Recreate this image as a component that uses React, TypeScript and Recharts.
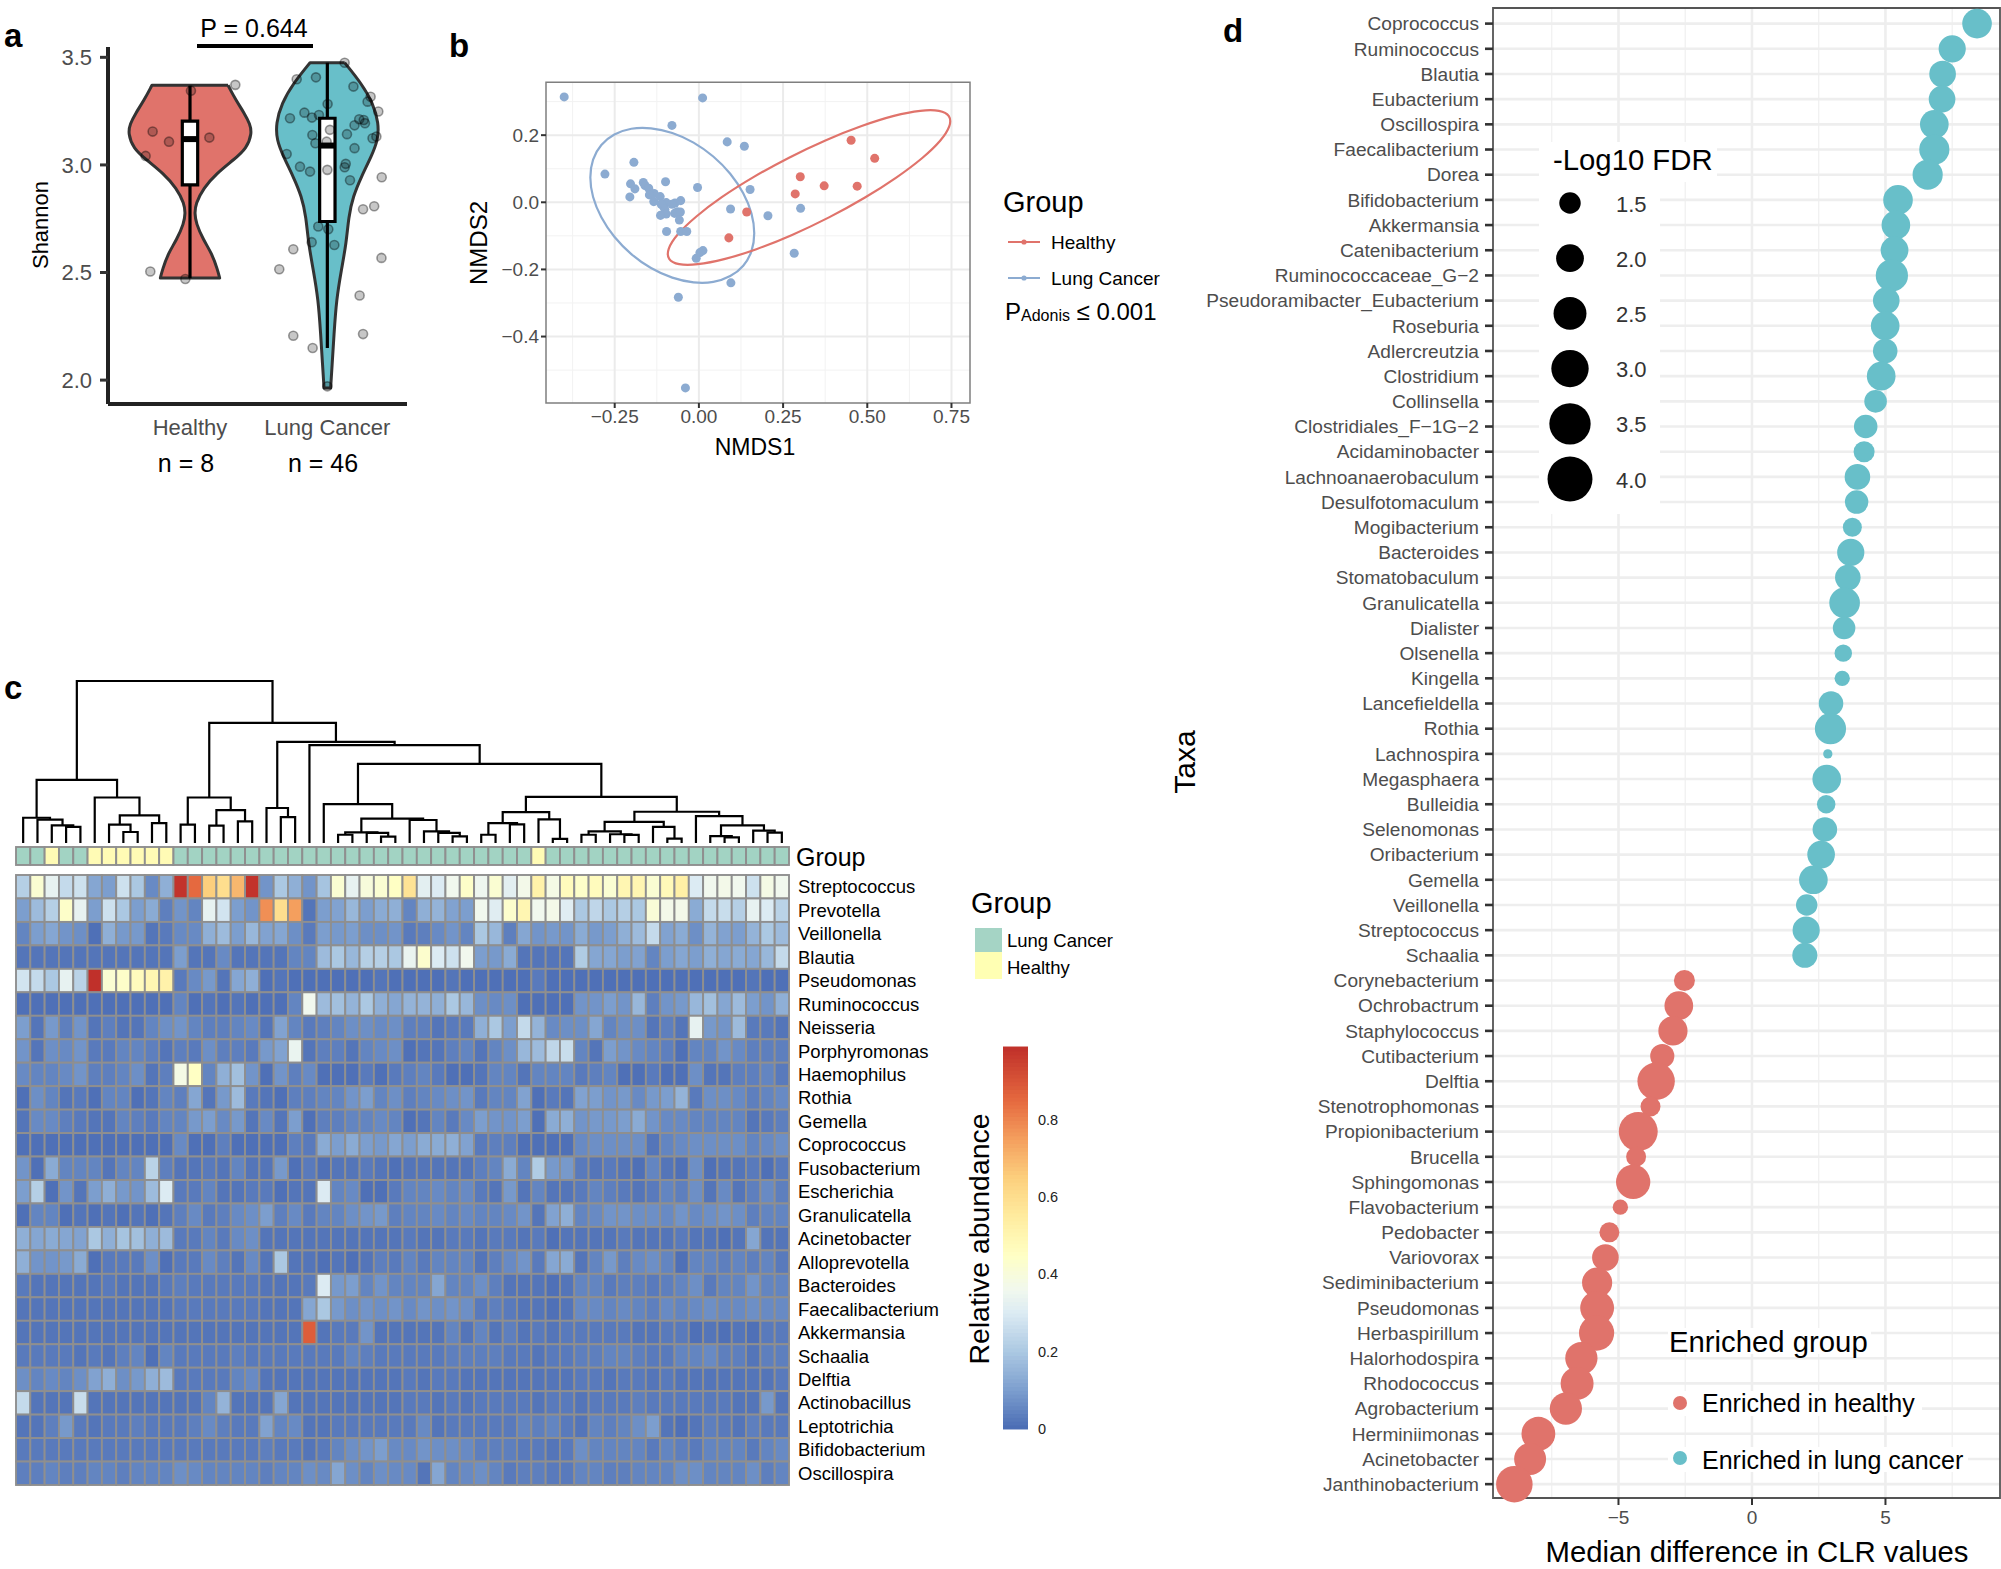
import { ScatterChart, Scatter, XAxis, YAxis, ZAxis, CartesianGrid, ReferenceArea } from 'recharts';

const FONT = '"Liberation Sans", Arial, sans-serif';
const RED = '#E0736B';
const TEAL = '#68BFC9';
const minus = (s: string) => s.replace('-', '\u2212');
const noDot = () => null;

// ---- panel a: Shannon violins
const healthyShannon = [3.37, 3.3, 3.24, 3.19, 3.147, 3.077, 3.023, 2.961, 2.892, 2.82, 2.775, 2.729, 2.652, 2.59, 2.513, 2.474];
const healthyHalfWidth = [0.277, 0.335, 0.396, 0.437, 0.451, 0.413, 0.316, 0.194, 0.097, 0.041, 0.034, 0.044, 0.097, 0.158, 0.201, 0.216];
const cancerShannon = [3.475, 3.379, 3.286, 3.193, 3.116, 3.039, 2.946, 2.853, 2.76, 2.636, 2.512, 2.373, 2.218, 2.063, 1.963];
const cancerHalfWidth = [0.126, 0.248, 0.333, 0.374, 0.369, 0.32, 0.248, 0.187, 0.155, 0.138, 0.102, 0.066, 0.049, 0.034, 0.024];
const healthyBox = { min: 2.474, q1: 2.907, med: 3.12, q3: 3.204, max: 3.368 };
const cancerBox = { min: 2.149, q1: 2.737, med: 3.09, q3: 3.217, max: 3.475 };
const healthyJitter = [[1.007, 3.345], [1.33, 3.372], [0.728, 3.155], [0.847, 3.108], [1.141, 3.127], [0.677, 3.042], [0.711, 2.505], [0.966, 2.47]];
const cancerJitter = [
  [1.777, 3.398], [1.917, 3.407], [2.002, 3.283], [1.728, 3.217], [1.833, 3.243], [1.888, 3.22], [1.939, 3.232], [2.019, 3.163],
  [1.891, 3.139], [1.995, 3.108], [1.913, 3.101], [1.704, 3.051], [1.801, 2.992], [1.874, 2.969], [2.0, 2.977], [1.934, 2.714],
  [2.007, 2.701], [1.886, 2.641], [2.051, 2.628], [1.752, 2.608], [1.65, 2.515], [1.752, 2.206], [1.893, 2.149], [2.0, 1.971],
  [2.126, 3.475], [2.19, 3.364], [2.315, 3.317], [2.293, 3.294], [2.371, 3.248], [2.232, 3.212], [2.265, 3.209], [2.274, 3.194],
  [2.198, 3.184], [2.143, 3.143], [2.329, 3.124], [2.357, 3.132], [2.198, 3.078], [2.134, 3.005], [2.126, 2.989], [2.165, 2.929],
  [2.396, 2.943], [2.26, 2.794], [2.341, 2.808], [2.394, 2.568], [2.235, 2.393], [2.26, 2.214],
];
const violinNames = ['Healthy', 'Lung Cancer'];

// ---- panel b: NMDS
const nmdsBlue = [
  [-0.4, 0.314], [0.011, 0.311], [-0.08, 0.229], [0.084, 0.18], [0.135, 0.167], [-0.193, 0.119], [-0.279, 0.084], [-0.099, 0.061],
  [-0.203, 0.055], [-0.165, 0.059], [-0.16, 0.05], [-0.149, 0.042], [-0.19, 0.04], [-0.004, 0.044], [0.152, 0.038], [-0.133, 0.026],
  [-0.147, 0.022], [-0.115, 0.017], [-0.205, 0.016], [-0.134, 0.002], [-0.054, 0.005], [-0.071, -0.002], [-0.08, -0.006], [-0.097, -0.001],
  [-0.106, -0.011], [-0.112, -0.006], [-0.101, -0.021], [-0.097, -0.035], [-0.114, -0.039], [-0.072, -0.033], [-0.064, -0.028], [-0.055, -0.029],
  [-0.058, -0.053], [0.094, -0.02], [0.302, -0.018], [0.205, -0.04], [-0.096, -0.087], [-0.054, -0.087], [-0.036, -0.087], [0.012, -0.144],
  [0.003, -0.15], [-0.008, -0.167], [0.283, -0.152], [0.095, -0.24], [-0.061, -0.283], [-0.04, -0.553],
];
const nmdsRed = [[0.452, 0.185], [0.522, 0.131], [0.301, 0.076], [0.372, 0.049], [0.47, 0.048], [0.286, 0.025], [0.142, -0.029], [0.089, -0.106]];
const ellipseBlue = [
  [0.167, -0.093], [0.159, -0.034], [0.134, 0.027], [0.095, 0.086], [0.044, 0.138], [-0.015, 0.18], [-0.079, 0.209], [-0.143, 0.223],
  [-0.202, 0.222], [-0.253, 0.204], [-0.292, 0.173], [-0.317, 0.129], [-0.325, 0.075], [-0.317, 0.016], [-0.292, -0.045], [-0.253, -0.104],
  [-0.202, -0.156], [-0.143, -0.198], [-0.079, -0.227], [-0.015, -0.241], [0.044, -0.24], [0.095, -0.222], [0.134, -0.191], [0.159, -0.147],
];
const ellipseRed = [
  [0.747, 0.259], [0.717, 0.275], [0.661, 0.275], [0.582, 0.26], [0.485, 0.229], [0.378, 0.187], [0.267, 0.134], [0.16, 0.075],
  [0.065, 0.015], [-0.012, -0.044], [-0.067, -0.097], [-0.094, -0.14], [-0.093, -0.171], [-0.063, -0.187], [-0.007, -0.187], [0.072, -0.172],
  [0.169, -0.142], [0.276, -0.099], [0.387, -0.046], [0.494, 0.013], [0.589, 0.074], [0.666, 0.132], [0.721, 0.185], [0.748, 0.228],
];
const nmdsXTicks = [-0.25, 0, 0.25, 0.5, 0.75];
const nmdsYTicks = [-0.4, -0.2, 0, 0.2];

// ---- panel c: heatmap, one list per taxon, 54 samples each
const heatTaxa = ['Streptococcus', 'Prevotella', 'Veillonella', 'Blautia', 'Pseudomonas', 'Ruminococcus', 'Neisseria', 'Porphyromonas', 'Haemophilus', 'Rothia', 'Gemella', 'Coprococcus', 'Fusobacterium', 'Escherichia', 'Granulicatella', 'Acinetobacter', 'Alloprevotella', 'Bacteroides', 'Faecalibacterium', 'Akkermansia', 'Schaalia', 'Delftia', 'Actinobacillus', 'Leptotrichia', 'Bifidobacterium', 'Oscillospira'];
const healthySamples = [3, 6, 7, 8, 9, 10, 11, 37];
const hStreptococcus = [.22,.42,.33,.25,.27,.12,.1,.27,.2,.06,.14,.98,.85,.65,.6,.7,.98,.08,.2,.14,.08,.19,.42,.33,.4,.42,.45,.58,.32,.3,.36,.44,.35,.42,.32,.37,.52,.38,.47,.44,.47,.42,.5,.5,.42,.48,.53,.3,.36,.37,.36,.27,.38,.36];
const hPrevotella = [.1,.17,.22,.44,.33,.1,.27,.2,.1,.13,.04,.08,.05,.33,.28,.1,.08,.78,.6,.75,.02,.1,.11,.16,.1,.13,.14,.05,.14,.15,.11,.1,.36,.31,.43,.5,.36,.37,.31,.2,.24,.2,.22,.2,.41,.37,.37,.13,.25,.26,.22,.33,.3,.23];
const hVeillonella = [.05,.1,.12,.08,.07,.01,.14,.09,.09,.02,.03,.06,.06,.14,.17,.1,.16,.11,.12,.07,.03,.1,.09,.1,.07,.07,.08,.03,.04,.06,.08,.05,.2,.16,.04,.12,.08,.09,.08,.13,.09,.1,.14,.17,.25,.11,.13,.07,.15,.11,.1,.15,.2,.17];
const hBlautia = [.02,.02,.02,.02,.02,.02,.02,.02,.02,.02,.02,.1,.02,.02,.06,.02,.02,.02,.02,.05,.05,.17,.2,.16,.22,.22,.2,.34,.43,.3,.27,.36,.1,.09,.13,.02,.02,.02,.02,.21,.12,.12,.1,.11,.05,.1,.12,.1,.14,.12,.13,.12,.16,.25];
const hPseudomonas = [.28,.25,.2,.33,.23,.99,.42,.44,.47,.5,.52,.03,.06,.09,.02,.12,.14,.01,.02,.01,.01,.01,.01,.01,.01,.02,.01,.01,.01,.01,.02,.01,.01,.01,.01,.01,.03,.01,.01,.01,.01,.01,.01,.01,.01,.01,.01,.01,.01,.01,.01,.02,.01,.01];
const hRuminococcus = [.01,.01,.01,.01,.01,.01,.01,.01,.01,.01,.01,.05,.01,.02,.01,.02,.01,.01,.01,.05,.36,.17,.18,.15,.2,.14,.12,.15,.15,.14,.2,.16,.07,.06,.07,.01,.01,.01,.01,.08,.08,.1,.08,.16,.04,.08,.09,.16,.18,.12,.17,.1,.08,.14];
const hNeisseria = [.1,.02,.09,.04,.08,.02,.04,.02,.02,.05,.07,.08,.05,.04,.04,.05,.06,.02,.11,.05,.03,.04,.05,.07,.07,.06,.07,.04,.04,.02,.03,.03,.14,.2,.1,.25,.15,.06,.07,.07,.12,.05,.07,.07,.02,.04,.02,.33,.09,.08,.17,.03,.03,.02];
const hPorphyromonas = [.08,.02,.07,.06,.08,.03,.03,.05,.05,.04,.02,.04,.03,.07,.04,.04,.03,.09,.11,.34,.02,.04,.04,.02,.05,.06,.07,.01,.02,.02,.04,.05,.02,.05,.07,.16,.17,.24,.26,.05,.02,.1,.08,.06,.05,.04,.01,.05,.05,.08,.06,.04,.04,.04];
const hHaemophilus = [.06,.05,.05,.06,.08,.04,.04,.05,.07,.02,.04,.38,.45,.05,.14,.18,.08,.01,.08,.04,.06,.01,.01,.01,.03,.01,.03,.04,.05,.03,.01,.01,.02,.05,.05,.02,.05,.05,.05,.03,.04,.05,.01,.01,.03,.01,.01,.07,.02,.02,.04,.04,.05,.03];
const hRothia = [.01,.07,.05,.02,.03,.01,.05,.05,.01,.02,.05,.04,.12,.02,.09,.17,.03,.02,.01,.04,.04,.05,.05,.08,.1,.05,.07,.04,.05,.06,.07,.08,.03,.05,.05,.11,.01,.03,.02,.11,.1,.08,.09,.06,.09,.1,.15,.03,.07,.07,.06,.04,.05,.06];
const hGemella = [.02,.06,.06,.04,.03,.02,.02,.05,.04,.03,.05,.05,.09,.1,.06,.09,.02,.06,.02,.1,.01,.04,.04,.05,.05,.06,.05,.01,.02,.05,.03,.06,.1,.08,.08,.1,.01,.13,.14,.08,.09,.09,.1,.13,.08,.06,.06,.05,.05,.05,.05,.02,.03,.04];
const hCoprococcus = [.01,.01,.01,.01,.01,.01,.01,.01,.01,.01,.01,.06,.01,.01,.04,.01,.01,.01,.01,.04,.03,.13,.1,.13,.1,.09,.12,.1,.13,.13,.14,.11,.03,.04,.04,.01,.01,.01,.01,.06,.07,.07,.07,.07,.02,.05,.06,.07,.07,.07,.07,.05,.06,.07];
const hFusobacterium = [.08,.01,.13,.05,.05,.05,.02,.05,.05,.23,.04,.02,.02,.03,.02,.05,.02,.02,.09,.01,.03,.01,.02,.02,.03,.02,.01,.02,.02,.02,.02,.02,.04,.05,.13,.05,.21,.09,.09,.03,.02,.03,.02,.01,.05,.02,.01,.07,.01,.02,.02,.03,.01,.03];
const hEscherichia = [.1,.22,.01,.08,.02,.1,.14,.09,.08,.17,.3,.03,.03,.05,.02,.02,.03,.03,.01,.02,.02,.3,.05,.06,.01,.01,.03,.05,.05,.06,.05,.06,.03,.02,.09,.02,.05,.02,.02,.03,.05,.04,.03,.02,.03,.05,.04,.07,.02,.06,.02,.04,.06,.04];
const hGranulicatella = [.01,.05,.05,.01,.02,.01,.02,.01,.02,.01,.02,.04,.06,.03,.04,.06,.07,.1,.04,.06,.03,.05,.05,.07,.08,.09,.04,.05,.05,.06,.05,.06,.05,.05,.06,.08,.02,.11,.14,.05,.06,.08,.08,.07,.07,.06,.08,.06,.07,.08,.07,.04,.05,.05];
const hAcinetobacter = [.14,.12,.13,.12,.11,.2,.14,.19,.18,.14,.17,.03,.03,.05,.03,.06,.07,.02,.02,.02,.02,.02,.02,.02,.02,.02,.02,.03,.02,.02,.03,.03,.02,.03,.03,.02,.03,.01,.02,.02,.02,.02,.03,.02,.02,.02,.03,.02,.02,.01,.02,.12,.02,.02];
const hAlloprevotella = [.14,.08,.08,.09,.13,.01,.03,.03,.03,.07,.01,.03,.03,.06,.04,.02,.06,.02,.2,.02,.02,.01,.02,.01,.02,.04,.03,.05,.03,.05,.05,.05,.02,.04,.06,.08,.03,.12,.13,.02,.05,.09,.04,.06,.07,.05,.01,.05,.05,.04,.05,.04,.05,.03];
const hBacteroides = [.03,.02,.02,.02,.02,.02,.03,.02,.02,.02,.03,.04,.03,.03,.03,.03,.03,.02,.02,.02,.03,.3,.09,.1,.05,.08,.05,.05,.05,.12,.05,.05,.07,.04,.02,.02,.02,.01,.02,.05,.05,.03,.04,.04,.03,.04,.05,.07,.03,.05,.05,.08,.05,.05];
const hFaecalibacterium = [.02,.02,.02,.02,.02,.02,.02,.02,.02,.02,.02,.03,.03,.03,.03,.03,.03,.02,.02,.02,.12,.2,.09,.07,.08,.07,.08,.06,.08,.07,.08,.07,.03,.04,.03,.02,.02,.01,.02,.06,.06,.05,.06,.05,.04,.06,.05,.06,.07,.06,.06,.07,.06,.06];
const hAkkermansia = [.02,.02,.02,.02,.02,.02,.02,.02,.02,.02,.02,.02,.02,.02,.02,.02,.02,.02,.02,.02,.88,.02,.03,.03,.08,.02,.02,.02,.02,.02,.05,.02,.05,.02,.04,.02,.03,.02,.03,.03,.03,.03,.03,.02,.02,.03,.03,.01,.02,.01,.02,.01,.03,.03];
const hSchaalia = [.03,.03,.03,.03,.02,.03,.02,.04,.05,.01,.05,.03,.03,.03,.03,.04,.03,.03,.03,.03,.03,.03,.03,.05,.04,.03,.03,.03,.03,.03,.04,.04,.04,.04,.03,.03,.02,.03,.03,.04,.04,.05,.05,.04,.03,.03,.05,.05,.06,.04,.04,.02,.04,.04];
const hDelftia = [.07,.05,.06,.05,.07,.11,.14,.07,.09,.14,.17,.03,.03,.03,.03,.05,.06,.02,.02,.02,.02,.02,.02,.02,.02,.02,.02,.03,.02,.03,.03,.02,.02,.02,.02,.02,.02,.02,.02,.03,.03,.02,.03,.03,.02,.03,.02,.02,.02,.02,.02,.02,.02,.03];
const hActinobacillus = [.25,.02,.02,.02,.26,.02,.02,.02,.02,.02,.02,.02,.02,.05,.15,.02,.02,.02,.12,.02,.02,.02,.02,.02,.02,.02,.02,.03,.03,.02,.03,.02,.03,.03,.03,.03,.02,.03,.03,.02,.03,.03,.03,.04,.03,.03,.03,.03,.03,.03,.02,.02,.09,.02];
const hLeptotrichia = [.02,.02,.04,.09,.03,.02,.03,.03,.04,.03,.03,.03,.04,.06,.04,.03,.03,.11,.05,.06,.02,.02,.03,.03,.03,.03,.03,.03,.06,.02,.03,.03,.03,.03,.03,.05,.04,.05,.03,.02,.05,.04,.05,.07,.1,.02,.01,.02,.04,.03,.02,.04,.03,.03];
const hBifidobacterium = [.03,.03,.03,.03,.03,.03,.03,.03,.03,.03,.03,.03,.03,.03,.03,.03,.03,.04,.03,.03,.02,.03,.05,.07,.08,.1,.06,.06,.08,.07,.07,.06,.04,.04,.04,.03,.03,.02,.03,.07,.05,.05,.05,.05,.03,.05,.04,.03,.05,.05,.05,.03,.05,.06];
const hOscillospira = [.04,.04,.05,.04,.04,.05,.05,.04,.05,.05,.05,.07,.06,.05,.05,.05,.05,.04,.05,.05,.07,.06,.12,.07,.05,.07,.06,.06,.02,.12,.05,.06,.07,.05,.03,.04,.04,.03,.03,.05,.05,.04,.04,.05,.05,.05,.07,.07,.05,.05,.05,.07,.04,.05];
const heatValues = [hStreptococcus, hPrevotella, hVeillonella, hBlautia, hPseudomonas, hRuminococcus, hNeisseria, hPorphyromonas, hHaemophilus, hRothia, hGemella, hCoprococcus, hFusobacterium, hEscherichia, hGranulicatella, hAcinetobacter, hAlloprevotella, hBacteroides, hFaecalibacterium, hAkkermansia, hSchaalia, hDelftia, hActinobacillus, hLeptotrichia, hBifidobacterium, hOscillospira];
const heatStops: [number, string][] = [[0, '#4A6BB4'], [0.1, '#7C9ECE'], [0.2, '#ABC8E2'], [0.3, '#DCEBF3'], [0.36, '#F1F8EE'], [0.45, '#FFFFC4'], [0.55, '#FFEC9F'], [0.65, '#FCCF7D'], [0.75, '#F49F5E'], [0.85, '#E5693F'], [0.987, '#C0302A']];
const colourTicks = [0, 0.2, 0.4, 0.6, 0.8];
// dendrogram merges: left leaf x, left height, right leaf x, right height, top height
const merges = [
  [4,0,5,0,9.9],[3,0,4.5,9.9,10.9],[2,0,3.75,10.9,14.4],[1,0,2.875,14.4,15.6],[8,0,9,0,6.8],[7,0,8.5,6.8,11.3],[10,0,11,0,12.3],[7.75,11.3,10.5,12.3,17],
  [6,0,9.125,17,28.1],[1.94,15.6,7.56,28.1,39],[12,0,13,0,11.3],[14,0,15,0,10.7],[16,0,17,0,13.3],[14.5,10.7,16.5,13.3,20.3],[12.5,11.3,15.5,20.3,28.1],
  [19,0,20,0,16],[18,0,19.5,16,21.6],[23,0,24,0,5.1],[26,0,27,0,3.9],[25,0,26.5,3.9,6.2],[23.5,5.1,25.75,6.2,6.6],[31,0,32,0,4.1],[30,0,31.5,4.1,6.2],
  [29,0,30.75,6.2,7.2],[28,0,29.875,7.2,14.2],[24.625,6.6,28.94,14.2,15],[22,0,26.78,15,24],[33,0,34,0,5.1],[35,0,36,0,11.5],[33.5,5.1,35.5,11.5,12.3],
  [38,0,39,0,2.5],[37,0,38.5,2.5,14.6],[34.5,12.3,37.75,14.6,19.1],[40,0,41,0,5.1],[43,0,44,0,5],[42,0,43.5,5,5.4],[40.5,5.1,42.75,5.4,7.2],[46,0,47,0,2.7],
  [45,0,46.5,2.7,9.9],[41.62,7.2,45.75,9.9,13.1],[50,0,51,0,3.5],[49,0,50.5,3.5,4.3],[53,0,54,0,6.4],[52,0,53.5,6.4,7.6],[49.75,4.3,52.75,7.6,10.9],
  [48,0,51.25,10.9,16.6],[43.7,13.1,49.62,16.6,19.3],[36.12,19.1,46.66,19.3,28.5],[24.39,24,41.39,28.5,48.9],[21,0,32.89,48.9,60.4],[18.75,21.6,26.95,60.4,62.4],
  [14,28.1,22.85,62.4,74.1],[4.75,39,18.42,74.1,100],
];

// ---- panel d: bubbles
const taxaUp = ['Coprococcus', 'Ruminococcus', 'Blautia', 'Eubacterium', 'Oscillospira', 'Faecalibacterium', 'Dorea', 'Bifidobacterium', 'Akkermansia', 'Catenibacterium', 'Ruminococcaceae_G\u22122', 'Pseudoramibacter_Eubacterium', 'Roseburia', 'Adlercreutzia', 'Clostridium', 'Collinsella', 'Clostridiales_F\u22121G\u22122', 'Acidaminobacter', 'Lachnoanaerobaculum', 'Desulfotomaculum', 'Mogibacterium', 'Bacteroides', 'Stomatobaculum', 'Granulicatella', 'Dialister', 'Olsenella', 'Kingella', 'Lancefieldella', 'Rothia', 'Lachnospira', 'Megasphaera', 'Bulleidia', 'Selenomonas', 'Oribacterium', 'Gemella', 'Veillonella', 'Streptococcus', 'Schaalia'];
const diffUp = [8.43, 7.5, 7.14, 7.12, 6.83, 6.83, 6.58, 5.47, 5.39, 5.34, 5.24, 5.03, 4.99, 4.99, 4.84, 4.63, 4.26, 4.2, 3.95, 3.92, 3.76, 3.7, 3.59, 3.47, 3.45, 3.42, 3.38, 2.96, 2.94, 2.84, 2.8, 2.78, 2.73, 2.59, 2.3, 2.05, 2.03, 1.98];
const fdrUp = [2.17, 1.95, 1.9, 1.9, 2.08, 2.22, 2.22, 2.17, 2.08, 2.0, 2.43, 1.9, 2.08, 1.73, 2.08, 1.58, 1.65, 1.47, 1.81, 1.65, 1.34, 1.95, 1.81, 2.27, 1.58, 1.25, 1.14, 1.73, 2.32, 0.9, 2.08, 1.31, 1.73, 1.99, 2.08, 1.5, 1.95, 1.77];
const taxaDown = ['Corynebacterium', 'Ochrobactrum', 'Staphylococcus', 'Cutibacterium', 'Delftia', 'Stenotrophomonas', 'Propionibacterium', 'Brucella', 'Sphingomonas', 'Flavobacterium', 'Pedobacter', 'Variovorax', 'Sediminibacterium', 'Pseudomonas', 'Herbaspirillum', 'Halorhodospira', 'Rhodococcus', 'Agrobacterium', 'Herminiimonas', 'Acinetobacter', 'Janthinobacterium'];
const diffDown = [-2.53, -2.74, -2.96, -3.36, -3.59, -3.8, -4.26, -4.34, -4.45, -4.93, -5.34, -5.49, -5.8, -5.8, -5.82, -6.39, -6.55, -6.97, -8.0, -8.31, -8.9];
const fdrDown = [1.47, 2.08, 2.13, 1.7, 3.0, 1.4, 3.2, 1.4, 2.65, 1.14, 1.4, 1.9, 2.22, 2.6, 2.75, 2.43, 2.5, 2.43, 2.6, 2.4, 2.9];
const sizeLegend = [1.5, 2.0, 2.5, 3.0, 3.5, 4.0];

const allTaxa = [...taxaUp, ...taxaDown];
const rowTicks = allTaxa.map((_, i) => i);
const upData = taxaUp.map((_, i) => ({ x: diffUp[i], y: i, z: fdrUp[i] }));
const downData = taxaDown.map((_, i) => ({ x: diffDown[i], y: i + taxaUp.length, z: fdrDown[i] }));

const pts = (list: number[][]) => list.map(([x, y]) => ({ x, y }));

// corners of the flat ends are repeated so the closed curve goes through them
const violinOutline = (centre: number, ys: number[], hw: number[]) => {
  const right = ys.map((y, i) => ({ x: centre + hw[i], y }));
  const left = ys.map((y, i) => ({ x: centre - hw[i], y })).reverse();
  const hold = (side: { x: number; y: number }[]) => [side[0], side[0], ...side, side[side.length - 1], side[side.length - 1]];
  return [...hold(right), ...hold(left)];
};

const mixHex = (a: string, b: string, t: number) => {
  const c = (s: string, i: number) => parseInt(s.slice(1 + i * 2, 3 + i * 2), 16);
  const ch = [0, 1, 2].map((i) => Math.round(c(a, i) + (c(b, i) - c(a, i)) * t));
  return `rgb(${ch[0]},${ch[1]},${ch[2]})`;
};
const heatColour = (v: number) => {
  for (let i = 1; i < heatStops.length; i++) {
    if (v <= heatStops[i][0]) {
      const [a, ca] = heatStops[i - 1];
      const [b, cb] = heatStops[i];
      return mixHex(ca, cb, (v - a) / (b - a));
    }
  }
  return heatStops[heatStops.length - 1][1];
};

const heatCells = heatValues.flatMap((row, r) => row.map((value, c) => ({ x: c + 1, y: r + 0.5, value })));
const groupCells = hStreptococcus.map((_, c) => ({ x: c + 1, y: -0.81, healthy: healthySamples.includes(c + 1) }));
// legend bands of the colour scale, 0.01 apart
const colourBands = Array.from({ length: 99 }, (_, i) => ({ x: 0.5, y: (i + 0.5) * 0.00997 }));

const CELL_W = 14.31;
const CELL_H = 23.46;
const heatCell = (p: any) => (
  <rect x={p.cx - CELL_W / 2} y={p.cy - CELL_H / 2} width={CELL_W} height={CELL_H} fill={heatColour(p.payload.value)} stroke="#8F8F8F" strokeWidth={1.9} />
);
const groupCell = (p: any) => (
  <rect x={p.cx - CELL_W / 2} y={p.cy - 9} width={CELL_W} height={18} fill={p.payload.healthy ? '#FFFBB5' : '#A2D3C3'} stroke="#8F8F8F" strokeWidth={1.9} />
);
const bandCell = (p: any) => (
  <rect x={p.cx - 12.5} y={p.cy - 2.4} width={25} height={4.8} fill={heatColour(p.payload.y)} />
);

const boxSeries = (centre: number, b: typeof healthyBox) => {
  const w = 0.056;
  return (
    <>
      <Scatter data={pts([[centre, b.min], [centre, b.max]])} line={{ stroke: '#000', strokeWidth: 3.2 }} shape={noDot} isAnimationActive={false} />
      <Scatter data={pts([[centre - w, b.q1], [centre + w, b.q1], [centre + w, b.q3], [centre - w, b.q3]])} line={{ stroke: '#000', strokeWidth: 3.2, fill: '#fff' }} lineJointType="linearClosed" shape={noDot} isAnimationActive={false} />
      <Scatter data={pts([[centre - w, b.med], [centre + w, b.med]])} line={{ stroke: '#000', strokeWidth: 6 }} shape={noDot} isAnimationActive={false} />
    </>
  );
};

const T = ({ x, y, size, anchor = 'start', weight, fill = '#000', rotate, children }: any) => (
  <text x={x} y={y} fontSize={size} textAnchor={anchor} fontWeight={weight} fill={fill} dominantBaseline="central" fontFamily={FONT} transform={rotate ? `rotate(${rotate} ${x} ${y})` : undefined}>{children}</text>
);

const place = (left: number, top: number, width: number, height: number) => ({ position: 'absolute' as const, left, top, width, height });

export default function App() {
  return (
    <div style={{ position: 'absolute', left: 0, top: 0, width: 2001, height: 1569, overflow: 'hidden', background: '#fff', fontFamily: FONT }}>
      {/* a */}
      <div style={place(0, 20, 440, 440)}>
        <ScatterChart width={440} height={440} margin={{ top: 27, right: 33, bottom: 0, left: 0 }}>
          <XAxis type="number" dataKey="x" domain={[0.403, 2.58]} ticks={[1, 2]} tickFormatter={(v) => violinNames[v - 1]} tickLine={false} tickMargin={9} axisLine={{ stroke: '#222', strokeWidth: 4 }} height={56} tick={{ fontSize: 22, fill: '#4D4D4D' }} />
          <YAxis type="number" dataKey="y" domain={[1.889, 3.548]} ticks={[2, 2.5, 3, 3.5]} tickFormatter={(v) => v.toFixed(1)} width={108} axisLine={{ stroke: '#222', strokeWidth: 4 }} tickLine={{ stroke: '#333', strokeWidth: 3 }} tickSize={8} tickMargin={8} tick={{ fontSize: 22, fill: '#4D4D4D' }} />
          <ZAxis range={[26, 26]} />
          <Scatter data={violinOutline(1, healthyShannon, healthyHalfWidth)} line={{ stroke: '#333', strokeWidth: 3, fill: RED, strokeLinejoin: 'round' }} lineJointType="basisClosed" shape={noDot} isAnimationActive={false} />
          <Scatter data={violinOutline(2, cancerShannon, cancerHalfWidth)} line={{ stroke: '#333', strokeWidth: 3, fill: TEAL, strokeLinejoin: 'round' }} lineJointType="basisClosed" shape={noDot} isAnimationActive={false} />
          {boxSeries(1, healthyBox)}
          {boxSeries(2, cancerBox)}
          <Scatter data={pts(healthyJitter)} fill="#000" fillOpacity={0.22} stroke="#000" strokeOpacity={0.38} strokeWidth={1.6} isAnimationActive={false} />
          <Scatter data={pts(cancerJitter)} fill="#000" fillOpacity={0.22} stroke="#000" strokeOpacity={0.38} strokeWidth={1.6} isAnimationActive={false} />
        </ScatterChart>
      </div>

      {/* b */}
      <div style={place(470, 70, 520, 370)}>
        <ScatterChart width={520} height={370} margin={{ top: 12.3, right: 20, bottom: 0, left: 0 }}>
          <CartesianGrid horizontalValues={[-0.5, -0.3, -0.1, 0.1, 0.3]} verticalValues={[-0.375, -0.125, 0.125, 0.375, 0.625]} stroke="#F2F2F2" strokeWidth={1} />
          <CartesianGrid horizontalValues={nmdsYTicks} verticalValues={nmdsXTicks} stroke="#EBEBEB" strokeWidth={2} />
          <XAxis type="number" dataKey="x" domain={[-0.454, 0.805]} ticks={nmdsXTicks} tickFormatter={(v) => minus(v.toFixed(2))} height={37} tickSize={5} tickLine={{ stroke: '#333', strokeWidth: 2 }} axisLine={false} tick={{ fontSize: 19, fill: '#4D4D4D' }} />
          <YAxis type="number" dataKey="y" domain={[-0.598, 0.3575]} ticks={nmdsYTicks} tickFormatter={(v) => minus(v.toFixed(1))} width={76} tickSize={5} tickLine={{ stroke: '#333', strokeWidth: 2 }} axisLine={false} tick={{ fontSize: 19, fill: '#4D4D4D' }} />
          <ZAxis range={[14, 14]} />
          <Scatter data={pts(ellipseBlue)} line={{ stroke: '#8CABD1', strokeWidth: 2.2, fill: 'none' }} lineJointType="basisClosed" shape={noDot} isAnimationActive={false} />
          <Scatter data={pts(ellipseRed)} line={{ stroke: RED, strokeWidth: 2.2, fill: 'none' }} lineJointType="basisClosed" shape={noDot} isAnimationActive={false} />
          <Scatter data={pts(nmdsBlue)} fill="#8CABD1" isAnimationActive={false} />
          <Scatter data={pts(nmdsRed)} fill={RED} isAnimationActive={false} />
          <ReferenceArea x1={-0.454} x2={0.805} y1={-0.598} y2={0.3575} fill="none" stroke="#7F7F7F" strokeWidth={1.5} />
        </ScatterChart>
      </div>

      {/* c: dendrogram */}
      <div style={place(0, 670, 800, 180)}>
        <ScatterChart width={800} height={180} margin={{ top: 11, right: 11, bottom: 7, left: 16 }}>
          <XAxis type="number" dataKey="x" domain={[0.5, 54.5]} hide />
          <YAxis type="number" dataKey="y" domain={[0, 100]} hide />
          {merges.map(([xl, hl, xr, hr, top], i) => (
            <Scatter key={i} data={pts([[xl, hl], [xl, top], [xr, top], [xr, hr]])} line={{ stroke: '#000', strokeWidth: 2.2 }} shape={noDot} isAnimationActive={false} />
          ))}
        </ScatterChart>
      </div>

      {/* c: heatmap */}
      <div style={place(0, 840, 1000, 660)}>
        <ScatterChart width={1000} height={660} margin={{ top: 6, right: 0, bottom: 15, left: 16 }}>
          <XAxis type="number" dataKey="x" domain={[0.5, 54.5]} hide />
          <YAxis type="number" dataKey="y" orientation="right" reversed domain={[-1.236, 26]} ticks={heatTaxa.map((_, i) => i + 0.5)} interval={0} tickFormatter={(v) => heatTaxa[v - 0.5]} width={211} axisLine={false} tickLine={false} tickSize={0} tickMargin={9} tick={{ fontSize: 18.5, fill: '#000' }} />
          <Scatter data={groupCells} shape={groupCell} isAnimationActive={false} />
          <Scatter data={heatCells} shape={heatCell} isAnimationActive={false} />
        </ScatterChart>
      </div>

      {/* c: colour bar */}
      <div style={place(990, 1040, 90, 400)}>
        <ScatterChart width={90} height={400} margin={{ top: 7, right: 0, bottom: 11, left: 13 }}>
          <XAxis type="number" dataKey="x" domain={[0, 1]} hide />
          <YAxis type="number" dataKey="y" orientation="right" domain={[0, 0.987]} ticks={colourTicks} interval={0} tickFormatter={(v) => String(v)} width={52} axisLine={false} tickLine={false} tickSize={0} tickMargin={10} tick={{ fontSize: 14.5, fill: '#222' }} />
          <Scatter data={colourBands} shape={bandCell} isAnimationActive={false} />
        </ScatterChart>
      </div>

      {/* d */}
      <div style={place(1200, 0, 801, 1530)}>
        <ScatterChart width={801} height={1530} margin={{ top: 8, right: 1, bottom: 0, left: 0 }}>
          <CartesianGrid horizontal={false} verticalValues={[-7.5, -2.5, 2.5, 7.5]} stroke="#F0F0F0" strokeWidth={1.2} />
          <CartesianGrid horizontalValues={rowTicks} verticalValues={[-5, 0, 5]} stroke="#EEEEEE" strokeWidth={2.6} />
          <XAxis type="number" dataKey="x" domain={[-9.7, 9.29]} ticks={[-5, 0, 5]} tickFormatter={(v) => minus(String(v))} height={32} tickSize={7} tickMargin={6} tickLine={{ stroke: '#333', strokeWidth: 2 }} axisLine={false} tick={{ fontSize: 19, fill: '#4D4D4D' }} />
          <YAxis type="number" dataKey="y" reversed domain={[-0.62, 58.55]} ticks={rowTicks} interval={0} tickFormatter={(v) => allTaxa[v]} width={293} tickSize={8} tickMargin={6} tickLine={{ stroke: '#333', strokeWidth: 2.6 }} axisLine={false} tick={{ fontSize: 19.1, fill: '#4D4D4D' }} />
          <ZAxis type="number" dataKey="z" domain={[0.9, 4]} range={[67.2, 1586]} />
          <Scatter data={upData} fill={TEAL} isAnimationActive={false} />
          <Scatter data={downData} fill={RED} isAnimationActive={false} />
          <ReferenceArea x1={-9.7} x2={9.29} y1={-0.62} y2={58.55} fill="none" stroke="#555" strokeWidth={1.8} />
        </ScatterChart>
      </div>

      {/* labels and legends */}
      <svg width={2001} height={1569} style={{ position: 'absolute', left: 0, top: 0, pointerEvents: 'none' }}>
        <T x={4} y={35} size={33} weight="bold">a</T>
        <T x={449} y={45} size={33} weight="bold">b</T>
        <T x={4} y={687} size={33} weight="bold">c</T>
        <T x={1223} y={30} size={33} weight="bold">d</T>

        <T x={254} y={28} size={25} anchor="middle">P = 0.644</T>
        <line x1={197} x2={313} y1={46} y2={46} stroke="#000" strokeWidth={4} />
        <T x={40} y={225} size={22} anchor="middle" rotate={-90}>Shannon</T>
        <T x={186} y={463} size={25} anchor="middle">n = 8</T>
        <T x={323} y={463} size={25} anchor="middle">n = 46</T>

        <T x={755} y={447} size={23} anchor="middle">NMDS1</T>
        <T x={478} y={243} size={24} anchor="middle" rotate={-90}>NMDS2</T>
        <T x={1003} y={202} size={29}>Group</T>
        <line x1={1008} x2={1040} y1={242} y2={242} stroke={RED} strokeWidth={2} />
        <circle cx={1024} cy={242} r={2.6} fill={RED} />
        <T x={1051} y={242} size={19}>Healthy</T>
        <line x1={1008} x2={1040} y1={278} y2={278} stroke="#8CABD1" strokeWidth={2} />
        <circle cx={1024} cy={278} r={2.6} fill="#8CABD1" />
        <T x={1051} y={278} size={19}>Lung Cancer</T>
        <T x={1005} y={311} size={24}>P<tspan fontSize={16} dy={4}>Adonis</tspan><tspan dy={-4}> ≤ 0.001</tspan></T>

        <T x={796} y={857} size={25}>Group</T>
        <T x={971} y={903} size={29}>Group</T>
        <rect x={975} y={928} width={27} height={24} fill="#A5D4C5" />
        <rect x={975} y={952} width={27} height={27} fill="#FFFFB3" />
        <T x={1007} y={940} size={18.5}>Lung Cancer</T>
        <T x={1007} y={967} size={18.5}>Healthy</T>
        <T x={979} y={1239} size={28.4} anchor="middle" rotate={-90}>Relative abundance</T>

        <rect x={1539} y={142} width={178} height={40} fill="#fff" />
        <rect x={1539} y={182} width={121} height={332} fill="#fff" />
        <T x={1553} y={159} size={29.3}>-Log10 FDR</T>
        {sizeLegend.map((v, i) => (
          <g key={v}>
            <circle cx={1570} cy={203 + i * 55.2} r={Math.sqrt(115 + 156 * (v - 1.5))} fill="#000" />
            <T x={1616} y={204 + i * 55.2} size={22} fill="#333">{v.toFixed(1)}</T>
          </g>
        ))}

        <rect x={1668} y={1328} width={203} height={26} fill="#fff" />
        <rect x={1668} y={1391} width={254} height={25} fill="#fff" />
        <rect x={1668} y={1447} width={300} height={25} fill="#fff" />
        <T x={1669} y={1341} size={29.3}>Enriched group</T>
        <circle cx={1680} cy={1403} r={7} fill={RED} />
        <T x={1702} y={1403} size={25}>Enriched in healthy</T>
        <circle cx={1680} cy={1458} r={7} fill={TEAL} />
        <T x={1702} y={1460} size={25}>Enriched in lung cancer</T>

        <T x={1184} y={762} size={30} anchor="middle" rotate={-90}>Taxa</T>
        <T x={1757} y={1551} size={29.3} anchor="middle">Median difference in CLR values</T>
      </svg>
    </div>
  );
}
